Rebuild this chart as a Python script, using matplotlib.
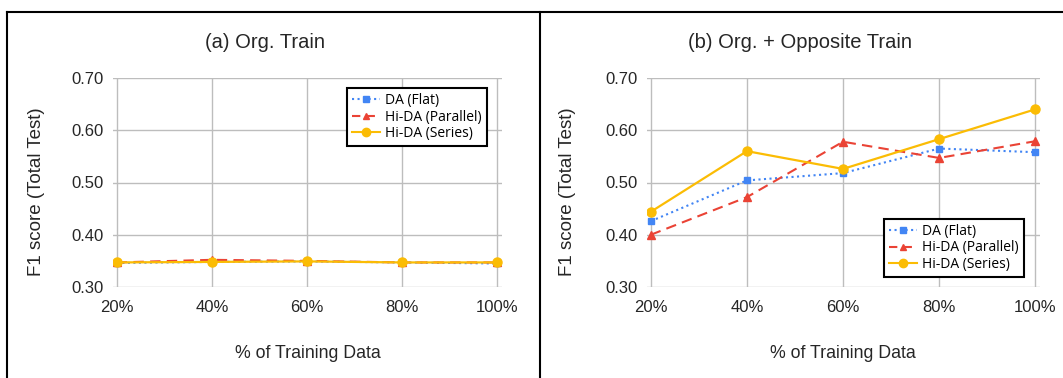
import matplotlib
matplotlib.use("Agg")
import matplotlib.pyplot as plt
from matplotlib.lines import Line2D

# % of training data
pct = [20, 40, 60, 80, 100]
pct_labels = ["20%", "40%", "60%", "80%", "100%"]

# (a) Org. Train
a_flat = [0.346, 0.348, 0.349, 0.347, 0.345]
a_parallel = [0.347, 0.352, 0.350, 0.347, 0.347]
a_series = [0.347, 0.348, 0.349, 0.347, 0.347]

# (b) Org. + Opposite Train
b_flat = [0.426, 0.504, 0.518, 0.565, 0.558]
b_parallel = [0.400, 0.472, 0.578, 0.547, 0.579]
b_series = [0.444, 0.560, 0.526, 0.583, 0.640]

series_names = ["DA (Flat)", "Hi-DA (Parallel)", "Hi-DA (Series)"]

BLUE = "#4285F4"
RED = "#EA4335"
YELLOW = "#FBBC04"
GRID = "#bdbdbd"
TXT = "#262626"

W, H = 1063, 378
fig = plt.figure(figsize=(W / 100, H / 100), dpi=100)


def draw_panel(rect, flat, parallel, series, legend_anchor, legend_loc):
    ax = fig.add_axes(rect)
    ax.plot(pct, flat, ":", color=BLUE, lw=1.5, marker="s", ms=5,
            label=series_names[0], zorder=3)
    ax.plot(pct, parallel, "--", color=RED, lw=1.5, marker="^", ms=5.5,
            dashes=(5, 3), label=series_names[1], zorder=3)
    ax.plot(pct, series, "-", color=YELLOW, lw=1.6, marker="o", ms=6.5,
            label=series_names[2], zorder=4)

    ax.set_ylim(0.30, 0.70)
    ax.set_yticks([0.30, 0.40, 0.50, 0.60, 0.70])
    ax.set_yticklabels([f"{v:.2f}" for v in [0.30, 0.40, 0.50, 0.60, 0.70]])
    ax.set_xlim(19.2, 101.0)
    ax.set_xticks(pct)
    ax.set_xticklabels(pct_labels)

    # horizontal gridlines span the full plot width, vertical ones at points
    for y in [0.30, 0.40, 0.50, 0.60, 0.70]:
        ax.axhline(y, color=GRID, lw=1.0, zorder=1)
    for x in pct:
        ax.plot([x, x], [0.30, 0.70], color=GRID, lw=1.0, zorder=1)

    for s in ax.spines.values():
        s.set_visible(False)
    ax.tick_params(length=0, labelsize=12, colors=TXT)
    ax.tick_params(axis="y", pad=7)
    ax.tick_params(axis="x", pad=9)
    for lab in ax.get_xticklabels() + ax.get_yticklabels():
        lab.set_fontfamily("Liberation Sans")

    handles = [
        Line2D([], [], ls=":", color=BLUE, lw=1.5, marker="s", ms=5),
        Line2D([], [], ls="--", color=RED, lw=1.5, marker="^", ms=5, dashes=(4, 3)),
        Line2D([], [], ls="-", color=YELLOW, lw=1.5, marker="o", ms=6),
    ]
    leg = ax.legend(handles, series_names, loc=legend_loc,
                    bbox_to_anchor=legend_anchor, borderaxespad=0,
                    fancybox=False, framealpha=1, edgecolor="black",
                    handlelength=2.0, handletextpad=0.4, borderpad=0.35,
                    labelspacing=0.12,
                    prop={"family": "Open Sans", "size": 10})
    leg.get_frame().set_linewidth(1.5)
    return ax


# axes rectangles from pixel positions
def rect(x0, x1, ytop, ybot):
    return [x0 / W, 1 - ybot / H, (x1 - x0) / W, (ybot - ytop) / H]


draw_panel(rect(113, 502, 78, 287), a_flat, a_parallel, a_series,
           (0.961, 0.952), "upper right")
draw_panel(rect(647, 1040, 78, 287), b_flat, b_parallel, b_series,
           (0.959, 0.048), "lower right")

# titles and axis labels
fig.text(265 / W, 1 - 43 / H, "(a) Org. Train", ha="center", va="center",
         fontsize=14.5, family="Liberation Sans", color=TXT)
fig.text(800 / W, 1 - 43 / H, "(b) Org. + Opposite Train", ha="center",
         va="center", fontsize=14.5, family="Liberation Sans", color=TXT)
for xc in [308, 843]:
    fig.text(xc / W, 1 - 353 / H, "% of Training Data", ha="center",
             va="center", fontsize=12.8, family="Liberation Sans", color=TXT)
for xc in [37, 568]:
    fig.text(xc / W, 1 - 192 / H, "F1 score (Total Test)", ha="center",
             va="center", rotation=90, fontsize=13.5, family="Liberation Sans",
             color=TXT)

# panel borders
border = dict(color="black", lw=1.5, transform=fig.transFigure)
fig.add_artist(Line2D([7 / W, 1], [1 - 12 / H, 1 - 12 / H], **border))
fig.add_artist(Line2D([7 / W, 7 / W], [0, 1 - 12 / H], **border))
fig.add_artist(Line2D([540 / W, 540 / W], [0, 1 - 12 / H], **border))

fig.savefig("out.png", dpi=100)
